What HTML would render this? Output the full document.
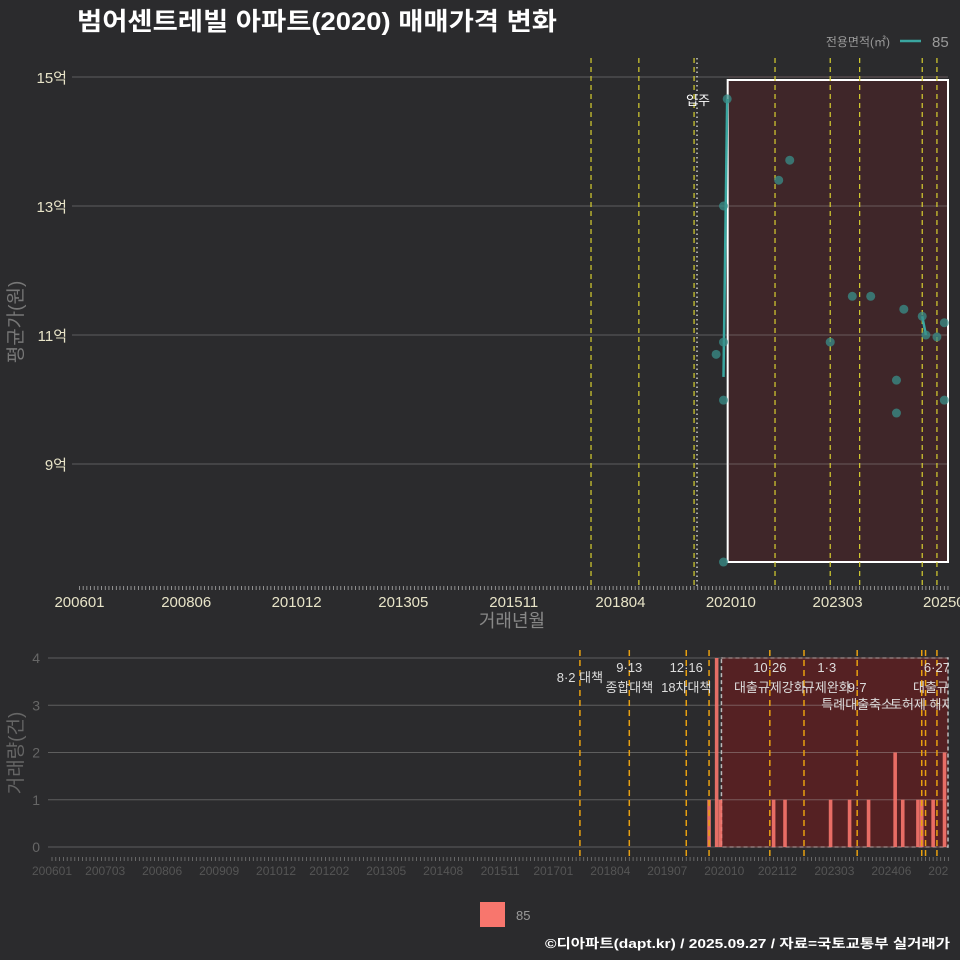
<!DOCTYPE html>
<html><head><meta charset="utf-8"><style>
html,body{margin:0;padding:0;background:#2b2b2d;overflow:hidden;}
svg{display:block;}
svg text{font-family:"Liberation Sans","Noto Sans CJK KR",sans-serif;}
</style></head><body>
<svg id="c" width="960" height="960" xmlns="http://www.w3.org/2000/svg">
<rect width="960" height="960" fill="#2b2b2d"/>
<text x="77" y="30" font-size="25" font-weight="bold" fill="#ffffff" textLength="480" lengthAdjust="spacingAndGlyphs">범어센트레빌 아파트(2020) 매매가격 변화</text>
<text x="890" y="46" font-size="12" fill="#999" text-anchor="end">전용면적(㎡)</text>
<line x1="900" y1="41" x2="921" y2="41" stroke="#3aa6a0" stroke-width="2.5"/>
<text x="932" y="47" font-size="15" fill="#999">85</text>
<g id="gtop"></g>
<g id="gbot"></g>
<text transform="translate(22,322) rotate(-90)" font-size="19" fill="#777" text-anchor="middle">평균가(원)</text>
<text x="512" y="627" font-size="18" fill="#888" text-anchor="middle">거래년월</text>
<text transform="translate(22,753) rotate(-90)" font-size="19" fill="#666" text-anchor="middle">거래량(건)</text>
<rect x="480" y="902" width="25" height="25" fill="#f8766d"/>
<text x="516" y="920" font-size="13" fill="#999">85</text>
<text x="545" y="948" font-size="13" font-weight="bold" fill="#fff" textLength="405" lengthAdjust="spacingAndGlyphs">©디아파트(dapt.kr) / 2025.09.27 / 자료=국토교통부 실거래가</text>
</svg>
<script>
// month index: 0 = 2006-01
const pointMonths=[176,175,175,173,175,175,190,193,204,210,215,224,229,230,233,235,222,222,235];
const pointPrices=[14.66,13.0,10.89,10.7,9.99,7.48,13.4,13.71,10.89,11.6,11.6,11.4,11.29,11.0,10.97,11.19,10.3,9.79,9.99];
const lineMonths=[175,176];
const linePrices=[10.35,14.66];
const line2Months=[229,230];
const line2Prices=[11.29,11.0];
const priceTicks=[15,13,11,9];
const priceTickLabels=["15억","13억","11억","9억"];
const xTickMonths=[0,29,59,88,118,147,177,206,236];
const xTickLabels=["200601","200806","201012","201305","201511","201804","202010","202303","202508"];
const eventMonthsTop=[139,152,167,189,204,212,229,233];
const volMonths=[173,175,176,190,193,205,210,215,222,224,228,229,232,235];
const volCounts=[1,4,1,1,1,1,1,1,2,1,1,1,1,2];
const volTicks=[0,1,2,3,4];
const botTickMonths=[0,14,29,44,59,73,88,103,118,132,147,162,177,191,206,221,236];
const botTickLabels=["200601","200703","200806","200909","201012","201202","201305","201408","201511","201701","201804","201907","202010","202112","202303","202406","202508"];
const eventMonthsBot=[139,152,167,173,189,198,212,229,230,233];
const notes=[[139,"8·2 대책",678],[152,"9·13",668],[152,"종합대책",688],[167,"12·16",668],[167,"18차대책",688],[189,"10·26",668],[189,"대출규제강화",688],[204,"1·3",668],[204,"규제완화",688],[212,"9·7",688],[212,"특례대출축소",705],[229,"토허제 해제",705],[233,"6·27",668],[233,"대출규제",688]];

const NS="http://www.w3.org/2000/svg";
function mk(p,t,a){const e=document.createElementNS(NS,t);for(const k in a)e.setAttribute(k,a[k]);p.appendChild(e);return e;}
const xT=m=>79.5+3.68*m, yT=v=>77+(15-v)*64.5;
const xB=m=>52+3.798*m, yB=v=>847-v*47.25;
const gTop=document.getElementById('gtop'), gBot=document.getElementById('gbot');

priceTicks.forEach((v,i)=>{
 let g=mk(gTop,'line',{x1:72,x2:948,y1:yT(v),y2:yT(v),stroke:'#5e5e5e','stroke-width':1});
 
 
 let t=mk(gTop,'text',{x:67,y:yT(v)+6,'font-size':15,fill:'#e8e4c8','text-anchor':'end'});t.textContent=priceTickLabels[i];
 
 
});
let r=mk(gTop,'rect',{x:xT(176)+0.5,y:80,width:948-xT(176)-0.5,height:482,fill:'#3f2629',stroke:'#ffffff','stroke-width':2});


priceTicks.forEach(v=>{mk(gTop,'line',{x1:xT(176)+1.5,x2:947,y1:yT(v),y2:yT(v),stroke:'#6a5a5a','stroke-width':1});});
eventMonthsTop.forEach(m=>{let l=mk(gTop,'line',{x1:xT(m),x2:xT(m),y1:58,y2:588,stroke:'#d8d030','stroke-width':1.2,'stroke-dasharray':'5,4'});
 
 });
let mv=mk(gTop,'line',{x1:697,x2:697,y1:58,y2:588,stroke:'#ccc','stroke-width':1.5,'stroke-dasharray':'1.5,3'});


let mt=mk(gTop,'text',{x:698,y:105,'font-size':13,fill:'#fff','text-anchor':'middle'});mt.textContent='입주';


for(let m=0;m<=236;m++){mk(gTop,'line',{x1:xT(m),x2:xT(m),y1:586,y2:590,stroke:'#aaa','stroke-width':0.8});}
xTickMonths.forEach((m,i)=>{let t=mk(gTop,'text',{x:xT(m),y:607,'font-size':15,fill:'#e8e4c8','text-anchor':'middle'});t.textContent=xTickLabels[i];
 
 });
[[lineMonths,linePrices],[line2Months,line2Prices]].forEach(([ms,vs])=>{
 let p=mk(gTop,'polyline',{points:ms.map((m,i)=>xT(m)+','+yT(vs[i])).join(' '),fill:'none',stroke:'#3aa6a0','stroke-width':2.5});
 
 });
pointMonths.forEach((m,i)=>{let c=mk(gTop,'circle',{cx:xT(m),cy:yT(pointPrices[i]),r:4.5,fill:'#3a8f8a','fill-opacity':0.75});
 
 });
mk(gTop,'rect',{x:949,y:55,width:11,height:540,fill:'#2b2b2d'});

volTicks.forEach(v=>{let g=mk(gBot,'line',{x1:48,x2:948,y1:yB(v),y2:yB(v),stroke:'#5e5e5e','stroke-width':1});
 
 
 let t=mk(gBot,'text',{x:40,y:yB(v)+5,'font-size':14,fill:'#666','text-anchor':'end'});t.textContent=v;
 
 });
let br=mk(gBot,'rect',{x:xB(176)+1,y:yB(4),width:948-xB(176)-1,height:yB(0)-yB(4),fill:'#5a2022','fill-opacity':0.9,stroke:'#bbb','stroke-width':1.5,'stroke-dasharray':'4,3'});


volTicks.forEach(v=>{mk(gBot,'line',{x1:xB(176)+2,x2:947,y1:yB(v),y2:yB(v),stroke:'#7a5a5a','stroke-width':1});});
volMonths.forEach((m,i)=>{let b=mk(gBot,'rect',{x:xB(m)-1.8,y:yB(volCounts[i]),width:3.6,height:yB(0)-yB(volCounts[i]),fill:'#f8766d','fill-opacity':0.9});
 
 });
eventMonthsBot.forEach(m=>{let l=mk(gBot,'line',{x1:xB(m),x2:xB(m),y1:650,y2:860,stroke:'#e8a010','stroke-width':1.5,'stroke-dasharray':'6,4'});
 
 });
notes.forEach(n=>{let t=mk(gBot,'text',{x:xB(n[0]),y:n[2]+4,'font-size':13,fill:'#ddd','text-anchor':'middle'});t.textContent=n[1];
 
 });
for(let m=0;m<=236;m++){mk(gBot,'line',{x1:xB(m),x2:xB(m),y1:857,y2:861,stroke:'#777','stroke-width':0.8});}
botTickMonths.forEach((m,i)=>{let t=mk(gBot,'text',{x:xB(m),y:875,'font-size':12,fill:'#555','text-anchor':'middle'});t.textContent=botTickLabels[i];
 
 });
mk(gBot,'rect',{x:949,y:645,width:11,height:235,fill:'#2b2b2d'});
</script>
</body></html>
